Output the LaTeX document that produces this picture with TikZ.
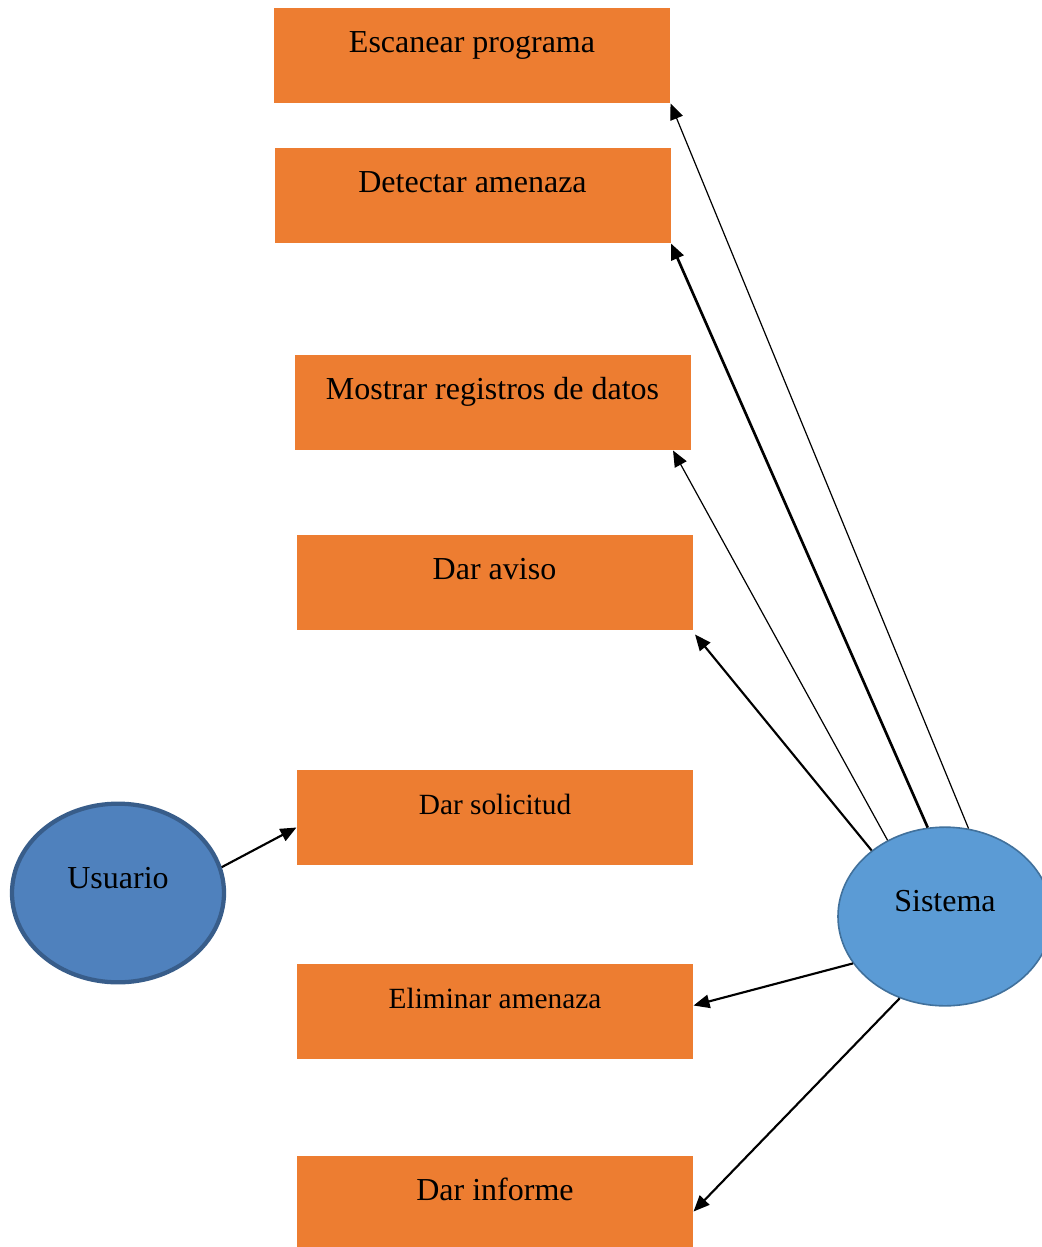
\documentclass[tikz,border=0pt]{standalone}
\usepackage{fontspec}
\setmainfont{Liberation Serif}
\usetikzlibrary{calc,arrows.meta,shapes.geometric}

\definecolor{naranja}{HTML}{ED7D31}
\definecolor{azulusr}{HTML}{4F81BD}
\definecolor{bordeusr}{HTML}{385D8A}
\definecolor{azulsis}{HTML}{5B9BD5}
\definecolor{bordesis}{HTML}{41719C}

\tikzset{
	caja/.style={rectangle,fill=naranja,minimum width=148.5pt,minimum height=35.6pt,
		text height=9pt,text depth=11.4pt,font=\fontsize{12}{14}\selectfont},
	actor/.style={ellipse,text height=8pt,text depth=11.6pt,font=\fontsize{12}{14}\selectfont},
	flecha/.style={-{Triangle[length=6pt,width=5pt]},line width=0.8pt},
	fina/.style={flecha,line width=0.45pt}
}

\begin{document}
\begin{tikzpicture}[x=0.375pt,y=-0.375pt]
		\useasboundingbox (0,0) rectangle (1041,1247);
		% casos de uso
		\foreach \n/\x/\y/\txt in {
			b1/472/55.5/Escanear programa,
			b2/472.5/195.5/Detectar amenaza,
			b3/492.5/402.5/Mostrar registros de datos,
			b4/494.5/582.5/Dar aviso,
			b5/495/817.5/{\fontsize{11}{13}\selectfont Dar solicitud},
			b6/495/1011.5/{\fontsize{11}{13}\selectfont Eliminar amenaza},
			b7/495/1203.5/Dar informe}{
			\node[caja] (\n) at (\x,\y) {\txt};
			}
		% actores
		\node[actor,fill=azulusr,draw=bordeusr,line width=1.6pt,
			minimum width=79.5pt,minimum height=67pt] (usr) at (118,893) {Usuario};
		\node[actor,fill=azulsis,draw=bordesis,line width=0.6pt,
			minimum width=80.25pt,minimum height=67pt] (sis) at (945,916.5) {Sistema};
		% relaciones
		\draw[flecha] (usr.14) -- ($(b5.west)+(0,10)$);
		\draw[fina] (sis.75) -- (b1.south east);
		\draw[flecha,line width=1pt] (sis.101) -- (b2.south east);
		\draw[fina] (sis.127) -- ($(b3.south east)+(-18,0)$);
		\draw[flecha] (sis.138) -- ($(b4.south east)+(2,4)$);
		\draw[flecha] (sis.207) -- ($(b6.east)+(0,-6)$);
		\draw[flecha] (sis.241) -- ($(b7.east)+(0,8)$);
\end{tikzpicture}
\end{document}
